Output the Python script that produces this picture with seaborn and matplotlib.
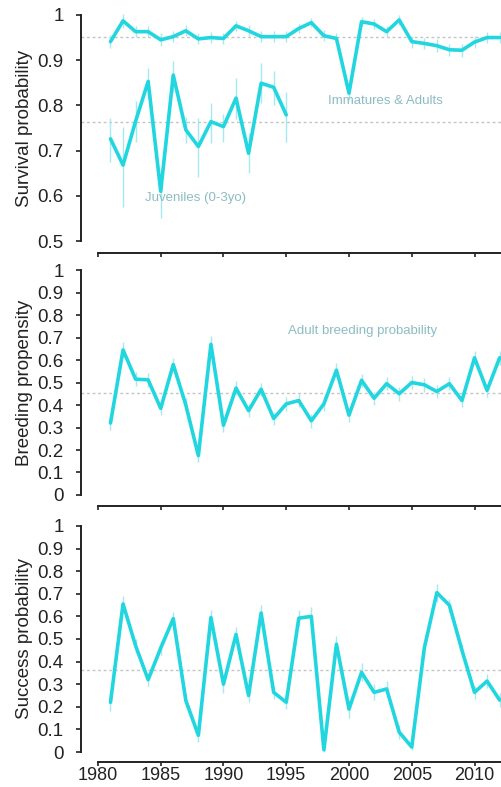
import numpy as np
import pandas as pd
import matplotlib
matplotlib.use("Agg")
import matplotlib.pyplot as plt
import seaborn as sns

# ── data ──────────────────────────────────────
years = list(range(1981, 2013))

adult_surv = [0.941, 0.987, 0.963, 0.963, 0.945, 0.952, 0.965, 0.947, 0.950, 0.948,
              0.976, 0.965, 0.952, 0.952, 0.952, 0.970, 0.983, 0.954, 0.948, 0.827,
              0.985, 0.980, 0.963, 0.989, 0.941, 0.937, 0.932, 0.923, 0.922, 0.940,
              0.950, 0.950]
adult_se = [0.015, 0.015, 0.012, 0.012, 0.014, 0.012, 0.012, 0.012, 0.012, 0.012,
            0.011, 0.012, 0.012, 0.012, 0.012, 0.011, 0.010, 0.012, 0.012, 0.016,
            0.010, 0.011, 0.012, 0.011, 0.013, 0.013, 0.014, 0.013, 0.014, 0.013,
            0.012, 0.012]

juv_years = list(range(1981, 1996))
juv_surv = [0.726, 0.668, 0.765, 0.853, 0.610, 0.867, 0.746, 0.709, 0.764, 0.753,
            0.816, 0.694, 0.849, 0.840, 0.779]
juv_lo = [0.675, 0.576, 0.720, 0.815, 0.550, 0.830, 0.717, 0.642, 0.717, 0.720,
          0.770, 0.650, 0.805, 0.800, 0.720]
juv_hi = [0.773, 0.753, 0.810, 0.882, 0.660, 0.898, 0.775, 0.771, 0.805, 0.780,
          0.860, 0.740, 0.893, 0.875, 0.830]

breeding = [0.320, 0.645, 0.515, 0.512, 0.385, 0.580, 0.400, 0.175, 0.670, 0.310,
            0.475, 0.375, 0.470, 0.340, 0.405, 0.420, 0.330, 0.405, 0.555, 0.355,
            0.510, 0.430, 0.495, 0.450, 0.500, 0.490, 0.460, 0.495, 0.420, 0.610,
            0.465, 0.610]
breeding_se = [0.03, 0.035, 0.03, 0.03, 0.03, 0.03, 0.03, 0.03, 0.035, 0.03,
               0.03, 0.03, 0.03, 0.03, 0.03, 0.03, 0.03, 0.03, 0.03, 0.03,
               0.03, 0.03, 0.03, 0.03, 0.03, 0.03, 0.03, 0.03, 0.03, 0.03,
               0.03, 0.03]

success = [0.220, 0.655, 0.470, 0.320, 0.460, 0.590, 0.228, 0.074, 0.595, 0.300,
           0.520, 0.250, 0.615, 0.264, 0.220, 0.592, 0.600, 0.010, 0.477, 0.190,
           0.352, 0.264, 0.279, 0.088, 0.022, 0.460, 0.705, 0.649, 0.450, 0.264,
           0.314, 0.230]
success_se = [0.04, 0.035, 0.03, 0.03, 0.03, 0.03, 0.03, 0.03, 0.035, 0.04,
              0.035, 0.03, 0.035, 0.03, 0.03, 0.035, 0.04, 0.01, 0.035, 0.04,
              0.04, 0.035, 0.035, 0.03, 0.015, 0.03, 0.04, 0.03, 0.03, 0.03,
              0.03, 0.03]

surv_means = [0.952, 0.763]
breeding_mean = 0.455
success_mean = 0.365

ylabels = ["Survival probability", "Breeding propensity", "Success probability"]
year_ticks = [1980, 1985, 1990, 1995, 2000, 2005, 2010]

# ── style ─────────────────────────────────────
sns.set_style("ticks")
plt.rcParams['font.family'] = ['Liberation Sans', 'DejaVu Sans']

LINE = "#22d6df"
ERR = "#a6e9ee"
NOTE = "#8bbcc4"
DOT = "#c4c4c4"

fig = plt.figure(figsize=(5.01, 7.87), dpi=100)
left, width = 81 / 501, 420 / 501
ax1 = fig.add_axes([left, 1 - 253 / 787, width, 248 / 787])
ax2 = fig.add_axes([left, 1 - 506 / 787, width, 244 / 787])
ax3 = fig.add_axes([left, 1 - 762 / 787, width, 244 / 787])


def draw(ax, x, y, lo, hi):
    ax.vlines(x, lo, hi, color=ERR, lw=1.0, zorder=2)
    sns.lineplot(x=x, y=y, ax=ax, color=LINE, lw=2.6, zorder=3)


# ── survival ──────────────────────────────────
draw(ax1, years, adult_surv,
     np.array(adult_surv) - np.array(adult_se),
     np.array(adult_surv) + np.array(adult_se))
draw(ax1, juv_years, juv_surv, juv_lo, juv_hi)
for m in surv_means:
    ax1.axhline(m, color=DOT, lw=1, ls=(0, (2, 2)), zorder=1)
ax1.text(1998.3, 0.81, "Immatures & Adults", color=NOTE, fontsize=9.5,
         ha="left", va="center")
ax1.text(1983.75, 0.595, "Juveniles (0-3yo)", color=NOTE, fontsize=9.5,
         ha="left", va="center")

# ── breeding ──────────────────────────────────
draw(ax2, years, breeding,
     np.array(breeding) - np.array(breeding_se),
     np.array(breeding) + np.array(breeding_se))
ax2.axhline(breeding_mean, color=DOT, lw=1, ls=(0, (2, 2)), zorder=1)
ax2.text(1995.15, 0.729, "Adult breeding probability", color=NOTE, fontsize=9.5,
         ha="left", va="center")

# ── success ───────────────────────────────────
draw(ax3, years, success,
     np.array(success) - np.array(success_se),
     np.array(success) + np.array(success_se))
ax3.axhline(success_mean, color=DOT, lw=1, ls=(0, (2, 2)), zorder=1)

# ── axes cosmetics ────────────────────────────
limits = [(0.4735, 1.022), (-0.049, 1.036), (-0.044, 1.035)]
yranges = [(0.5, 1.0), (0.0, 1.0), (0.0, 1.0)]
for ax, lab, lim, (y0, y1) in zip([ax1, ax2, ax3], ylabels, limits, yranges):
    ax.set_xlim(1978.65, 2012.11)
    ax.set_ylim(*lim)
    ticks = np.round(np.arange(y0, y1 + 0.001, 0.1), 1)
    ax.set_yticks(ticks)
    ax.set_yticklabels(["1" if t == 1 else ("0" if t == 0 else f"{t:.1f}") for t in ticks])
    ax.set_xticks(year_ticks)
    ax.spines["left"].set_bounds(y0, y1)
    ax.spines["bottom"].set_bounds(1980, 2013)
    for s in ["left", "bottom"]:
        ax.spines[s].set_color("#222222")
        ax.spines[s].set_linewidth(1.4)
    ax.spines["top"].set_visible(False)
    ax.spines["right"].set_visible(False)
    ax.tick_params(axis="y", length=3.5, width=1.2, color="#222222",
                   pad=9, labelsize=13.5, labelcolor="#222222")
    ax.tick_params(axis="x", length=3, width=1.2, color="#222222",
                   pad=0.3, labelsize=13, labelcolor="#222222")
    ax.set_xlabel("")
    ax.set_ylabel(lab, fontsize=13.5, color="#222222")
    mid = (y0 + y1) / 2
    ax.yaxis.set_label_coords(-0.114, (mid - lim[0]) / (lim[1] - lim[0]))
    ax.patch.set_alpha(0)

ax1.tick_params(axis="x", labelbottom=False)
ax2.tick_params(axis="x", labelbottom=False)

fig.savefig("out.png", dpi=100)
